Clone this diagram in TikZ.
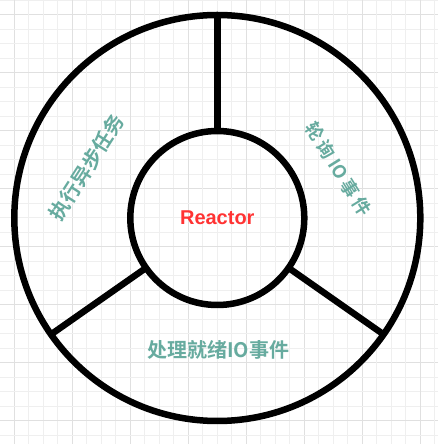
\documentclass[tikz,border=0pt]{standalone}
\usepackage{fontspec}
\setmainfont{Liberation Sans}
\newfontfamily\cjk{Noto Sans CJK SC}[BoldFont={Noto Sans CJK SC Bold}]
\usetikzlibrary{positioning}
\definecolor{labelgreen}{HTML}{67AB9F}
\definecolor{reactorred}{HTML}{FF3333}
\definecolor{gridminor}{HTML}{EFEFEF}
\definecolor{gridmajor}{HTML}{E0E0E0}
\tikzset{ringbox/.style={circle,draw=black,line width=6.5pt,outer sep=0pt,inner sep=0pt},spoke/.style={line width=6.5pt,draw=black},tag/.style={text=labelgreen,font=\cjk\bfseries\fontsize{20}{24}\selectfont,inner sep=0pt}}
\newcommand\gapsp{\hspace{3.8pt}}

\begin{document}
\begin{tikzpicture}[x=1pt,y=1pt]
\useasboundingbox (0,0) rectangle (438,444);
\fill[white] (0,0) rectangle (438,444);
% background grid
\begin{scope}
\clip (0,0) rectangle (438,444);
\foreach \k in {-1,...,30}{
  \pgfmathtruncatemacro{\m}{mod(\k+4,4)}
  \ifnum\m=0 \def\gc{gridmajor}\else \def\gc{gridminor}\fi
  \draw[\gc,line width=1pt] (14.3+14.5*\k,0) -- (14.3+14.5*\k,444);
  \draw[\gc,line width=1pt] (0,429-14.5*\k) -- (438,429-14.5*\k);
}
\end{scope}
\node[ringbox,minimum size=406pt] (ring) at (217.3,226) {};
\node[ringbox,minimum size=174pt,text=reactorred,font=\bfseries\fontsize{20}{24}\selectfont] (hub) at (217.3,226) {Reactor};
\draw[spoke] (hub.90) -- (ring.90);
\draw[spoke] (hub.215) -- (ring.215);
\draw[spoke] (hub.-35) -- (ring.-35);
\node[tag,rotate=57.3] (async) at (86.7,276.5) {执行异步任务};
\node[tag,rotate=-58,font=\cjk\bfseries\fontsize{18}{22}\selectfont] (poll) at (338.3,274.8) {轮\gapsp 询\gapsp IO\gapsp 事\gapsp 件};
\node[tag] (ready) at (218,94) {处理就绪IO事件};
\end{tikzpicture}
\end{document}
